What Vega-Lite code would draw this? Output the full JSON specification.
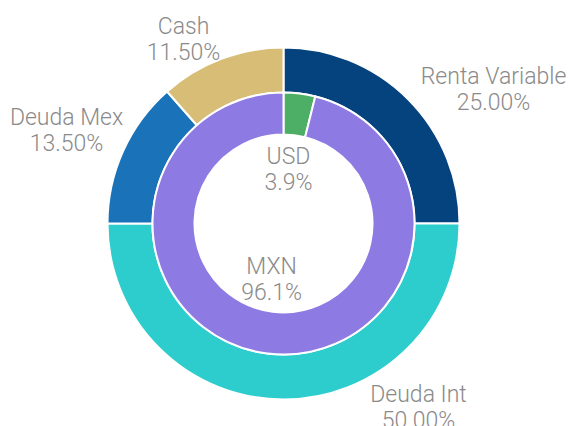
{
  "$schema": "https://vega.github.io/schema/vega-lite/v6.json",
  "width": 570,
  "height": 426,
  "autosize": {"type": "fit", "contains": "padding"},
  "padding": {"left": 0, "right": 3, "top": 21, "bottom": 0},
  "background": "white",
  "view": {"stroke": null},
  "datasets": {
    "outer": [
      {"cat": "Renta Variable", "pct": 25, "i": 1},
      {"cat": "Deuda Int", "pct": 50, "i": 2},
      {"cat": "Deuda Mex", "pct": 13.5, "i": 3},
      {"cat": "Cash", "pct": 11.5, "i": 4}
    ],
    "inner": [
      {"cat": "USD", "pct": 3.9, "i": 1},
      {"cat": "MXN", "pct": 96.1, "i": 2}
    ]
  },
  "layer": [
    {
      "data": {"name": "outer"},
      "mark": {"type": "arc", "radius": 176, "radius2": 131, "stroke": "white", "strokeWidth": 2},
      "encoding": {
        "theta": {"field": "pct", "type": "quantitative", "stack": true},
        "order": {"field": "i", "type": "quantitative"},
        "color": {
          "field": "cat", "type": "nominal", "legend": null,
          "scale": {
            "domain": ["Renta Variable", "Deuda Int", "Deuda Mex", "Cash", "USD", "MXN"],
            "range": ["#05437f", "#2dcdcd", "#1a73b9", "#d8bd76", "#4dae66", "#8e7ae3"]
          }
        }
      }
    },
    {
      "data": {"name": "inner"},
      "mark": {"type": "arc", "radius": 131, "radius2": 89, "stroke": "white", "strokeWidth": 2},
      "encoding": {
        "theta": {"field": "pct", "type": "quantitative", "stack": true},
        "order": {"field": "i", "type": "quantitative"},
        "color": {"field": "cat", "type": "nominal", "legend": null}
      }
    },
    {
      "data": {"name": "outer"},
      "transform": [{"calculate": "[datum.cat, format(datum.pct, '.2f') + '%']", "as": "label"}],
      "mark": {
        "type": "text", "radius": 215, "fontSize": 23, "font": "Roboto", "fontWeight": 300,
        "color": "#8a8a8a", "lineHeight": 26, "align": "center", "baseline": "middle",
        "dx": {"expr": "datum.cat == 'Renta Variable' ? 58 : datum.cat == 'Deuda Int' ? 135 : datum.cat == 'Deuda Mex' ? -21 : -24"},
        "dy": {"expr": "datum.cat == 'Renta Variable' ? 6 : datum.cat == 'Deuda Int' ? -44 : datum.cat == 'Deuda Mex' ? -17 : 5"}
      },
      "encoding": {
        "theta": {"field": "pct", "type": "quantitative", "stack": true},
        "order": {"field": "i", "type": "quantitative"},
        "text": {"field": "label", "type": "nominal"}
      }
    },
    {
      "data": {"name": "inner"},
      "transform": [{"calculate": "[datum.cat, format(datum.pct, '.1f') + '%']", "as": "label"}],
      "mark": {
        "type": "text", "radius": 57, "fontSize": 23, "font": "Roboto", "fontWeight": 300,
        "color": "#8a8a8a", "lineHeight": 26, "align": "center", "baseline": "middle",
        "dx": {"expr": "datum.cat == 'MXN' ? -5 : -2"},
        "dy": {"expr": "datum.cat == 'MXN' ? -13 : -10"}
      },
      "encoding": {
        "theta": {"field": "pct", "type": "quantitative", "stack": true},
        "order": {"field": "i", "type": "quantitative"},
        "text": {"field": "label", "type": "nominal"}
      }
    }
  ]
}
